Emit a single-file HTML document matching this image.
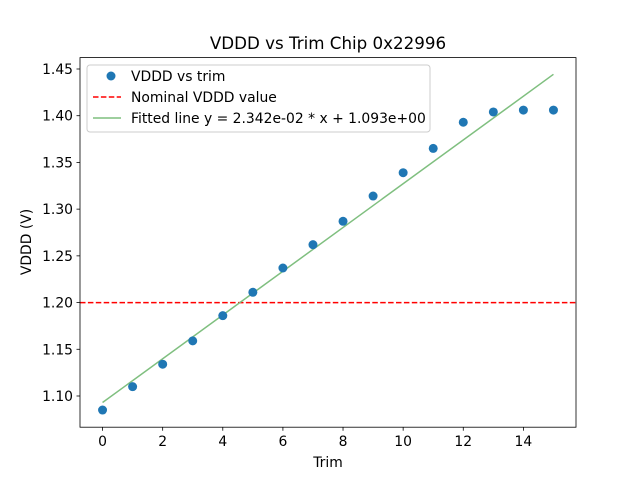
<!DOCTYPE html>
<html><head><meta charset="utf-8"><style>
body{margin:0;background:#fff;}
svg text{font-family:"DejaVu Sans","Liberation Sans",sans-serif;fill:#000;}
</style></head><body>
<svg id="chart" width="640" height="480" xmlns="http://www.w3.org/2000/svg">
<rect width="640" height="480" fill="#fff"/>
<text x="328" y="49" font-size="16.7" text-anchor="middle">VDDD vs Trim Chip 0x22996</text>
<g id="plot"></g>
<text x="328" y="467" font-size="13.9" text-anchor="middle">Trim</text>
<text transform="translate(31,242) rotate(-90)" font-size="13.9" text-anchor="middle">VDDD (V)</text>
</svg>
<script>
const trims=[0,1,2,3,4,5,6,7,8,9,10,11,12,13,14,15];
const vddd=[1.085,1.110,1.134,1.159,1.186,1.211,1.237,1.262,1.287,1.314,1.339,1.365,1.393,1.404,1.406,1.406];
const nominal=1.2;
const slope=0.02342, intercept=1.093;
const xTicks=[0,2,4,6,8,10,12,14];
const yTicks=[1.10,1.15,1.20,1.25,1.30,1.35,1.40,1.45];

const L=80,R=576,T=57.6,B=427.2;
const xmin=-0.75,xmax=15.75,ymin=1.0666,ymax=1.4622;
const X=v=>L+(v-xmin)/(xmax-xmin)*(R-L);
const Y=v=>B-(v-ymin)/(ymax-ymin)*(B-T);
const NS="http://www.w3.org/2000/svg";
const g=document.getElementById('plot');
function mk(t,a){const e=document.createElementNS(NS,t);for(const k in a)e.setAttribute(k,a[k]);g.appendChild(e);return e;}

xTicks.forEach(v=>{
 const l=mk('line',{x1:X(v),x2:X(v),y1:B,y2:B+3.5,stroke:'#000','stroke-width':0.8});
 
 
 const t=mk('text',{x:X(v),y:B+19,'font-size':13.9,'text-anchor':'middle'});t.textContent=v;
 
 
});
yTicks.forEach(v=>{
 const l=mk('line',{x1:L-3.5,x2:L,y1:Y(v),y2:Y(v),stroke:'#000','stroke-width':0.8});
 
 
 const t=mk('text',{x:L-7,y:Y(v)+5,'font-size':13.9,'text-anchor':'end'});t.textContent=v.toFixed(2);
 
 
});

const nl=mk('line',{x1:L,x2:R,y1:Y(nominal),y2:Y(nominal),stroke:'#ff0000','stroke-width':1.5,'stroke-dasharray':'5.5,2.4'});


const fl=mk('line',{x1:X(trims[0]),x2:X(trims[trims.length-1]),y1:Y(intercept+slope*trims[0]),y2:Y(intercept+slope*trims[trims.length-1]),stroke:'#7fbf7f','stroke-width':1.5});


trims.forEach((t,i)=>{
 const c=mk('circle',{cx:X(t),cy:Y(vddd[i]),r:4.5,fill:'#1f77b4'});
 
 
});

const fr=mk('rect',{x:L,y:T,width:R-L,height:B-T,fill:'none',stroke:'#000','stroke-width':0.8});



const lg=mk('g',{});


function lm(t,a){const e=document.createElementNS(NS,t);for(const k in a)e.setAttribute(k,a[k]);lg.appendChild(e);return e;}
lm('rect',{x:87,y:65,width:343,height:67,rx:3,fill:'#fff','fill-opacity':0.8,stroke:'#ccc'});
lm('circle',{cx:111,cy:76,r:4.5,fill:'#1f77b4'});
lm('line',{x1:93,x2:121,y1:97,y2:97,stroke:'#ff0000','stroke-width':1.5,'stroke-dasharray':'5.5,2.4'});
lm('line',{x1:93,x2:121,y1:118,y2:118,stroke:'#7fbf7f','stroke-width':1.5});
[['VDDD vs trim',81],['Nominal VDDD value',102],['Fitted line y = 2.342e-02 * x + 1.093e+00',123]].forEach(([s,y])=>{
 const t=lm('text',{x:131,y:y,'font-size':13.9});t.textContent=s;
 
 
});
</script>
</body></html>
